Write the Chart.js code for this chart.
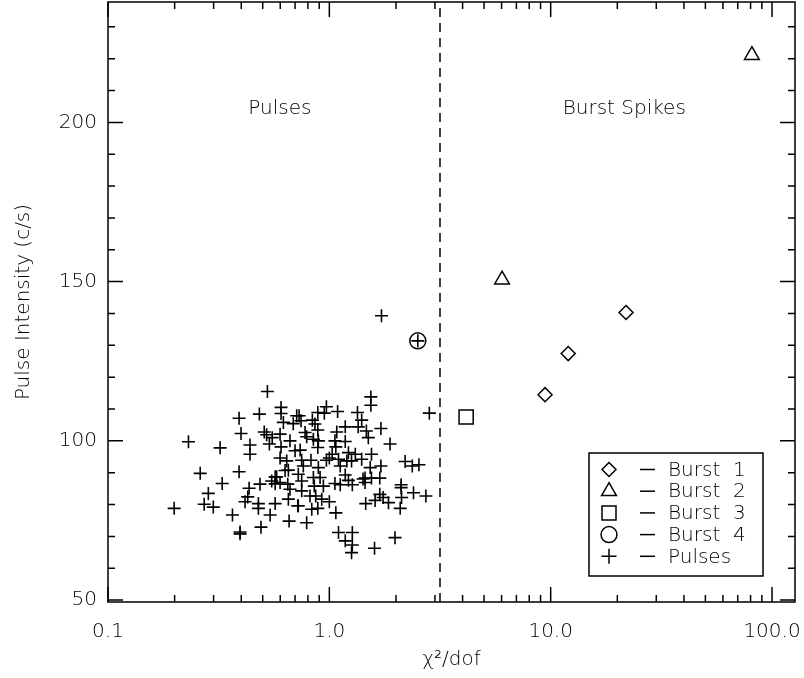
<!DOCTYPE html>
<html>
<head>
<meta charset="utf-8">
<script src="https://cdn.jsdelivr.net/npm/chart.js@4.4.1/dist/chart.umd.min.js"></script>
<style>
  html, body { margin: 0; padding: 0; background: #fff; }
  #wrap { width: 804px; height: 678px; }
</style>
</head>
<body>
<div id="wrap"><canvas id="chart" width="804" height="678"></canvas></div>
<script>
// pulses (chi2/dof, intensity)
const pulseX = [
  0.525, 0.605, 0.605, 0.483, 0.391, 0.712, 0.620, 0.687, 0.399, 0.508, 0.521, 0.599, 0.552, 0.231,
  0.321, 0.438, 0.438, 0.536, 0.605, 0.664, 0.700, 0.599, 0.642, 0.261, 0.391, 0.653, 0.569,
  1.54, 1.54, 2.83, 0.97, 0.887, 0.949, 1.09, 1.34, 0.730, 0.745, 0.838, 1.40, 0.861, 1.18, 1.35,
  1.71, 1.47, 0.887, 1.08, 0.777, 0.79, 1.50, 0.847, 0.892, 1.06, 1.18, 1.88, 0.887, 1.07, 0.738,
  1.55, 1.22, 1.31, 1.03, 1.00, 0.97, 1.10, 1.40, 1.20, 1.26, 0.75, 0.826, 0.763, 0.892, 1.12,
  1.53, 1.71, 2.20, 2.37, 2.54, 0.724, 0.847, 1.18, 1.45, 1.69,
  0.328, 0.284, 0.272, 0.299, 0.199, 0.434, 0.486, 0.549, 0.578, 0.599, 0.649, 0.664, 0.428, 0.416,
  0.478, 0.478, 0.569, 0.653, 0.72, 0.365, 0.540, 0.658, 0.491, 0.395, 0.395, 0.631, 0.569,
  0.75, 0.908, 0.855, 0.94, 0.75, 0.818, 0.868, 0.924, 1.00, 0.724, 0.833, 0.887, 1.06, 1.12,
  1.22, 1.27, 1.42, 1.45, 1.55, 2.11, 2.11, 2.40, 2.73, 1.69, 1.61, 1.75, 1.85, 1.46, 2.12, 2.09,
  1.07, 0.79, 1.10, 1.27, 1.18, 1.27, 1.26, 1.60, 1.98,
  1.72, 2.51
];
const pulseY = [
  115.5, 110.5, 108.6, 108.4, 107.1, 107.9, 105.8, 105.4, 102.3, 102.8, 101.9, 102.1, 101.0, 99.7,
  97.8, 98.7, 95.8, 99.0, 98.1, 100.0, 96.9, 94.6, 93.7, 89.8, 90.3, 90.8, 88.7,
  113.8, 111.2, 108.7, 110.7, 108.9, 108.7, 109.2, 108.9, 107.9, 106.3, 106.5, 106.5, 105.3, 104.4, 104.4,
  103.9, 103.1, 103.4, 102.8, 102.6, 101.3, 101.0, 100.5, 100.0, 100.0, 99.8, 99.0, 97.9, 98.1, 97.1,
  95.8, 96.3, 95.8, 95.8, 94.6, 93.9, 94.2, 94.2, 93.7, 93.7, 93.9, 93.9, 92.1, 91.6, 92.1,
  91.6, 92.1, 93.5, 92.1, 92.5, 89.5, 88.5, 89.3, 88.3, 88.3,
  86.6, 83.5, 80.1, 79.2, 78.8, 85.1, 86.4, 87.4, 88.7, 86.9, 86.4, 84.8, 82.4, 80.9,
  80.3, 78.8, 80.3, 81.7, 79.6, 76.7, 76.7, 74.8, 72.9, 71.4, 70.8, 90.7, 86.5,
  87.4, 88.5, 85.8, 85.8, 84.3, 82.7, 82.7, 81.7, 80.9, 79.6, 78.5, 78.8, 86.6, 86.2,
  87.6, 86.2, 88.0, 86.9, 88.3, 86.2, 85.3, 83.7, 82.7, 83.2, 81.3, 82.2, 80.6, 80.3, 82.2, 78.8,
  77.4, 74.3, 71.2, 71.2, 68.6, 67.3, 64.9, 66.3, 69.6,
  139.3, 131.4
];

const burst1X = [9.43, 12.0, 21.9];
const burst1Y = [114.5, 127.4, 140.3];
const burst2X = [6.03, 81.1];
const burst2Y = [150.6, 221.1];
const burst3X = [4.15];
const burst3Y = [107.5];
const burst4X = [2.51];
const burst4Y = [131.4];

const xTickVals = [0.1, 1, 10, 100];
const xTickLabels = ['0.1', '1.0', '10.0', '100.0'];
const yTickVals = [50, 100, 150, 200];
const yTickLabels = ['50', '100', '150', '200'];

const legendNames = ['Burst 1', 'Burst 2', 'Burst 3', 'Burst 4', 'Pulses'];
const dividerX = 3.162;

const FONT = '"DejaVu Sans", sans-serif';
const INK = '#000';
const TEXT = '#000';

function pts(xs, ys) {
  return xs.map((v, i) => ({ x: v, y: ys[i] }));
}

function drawSymbol(ctx, style, cx, cy) {
  ctx.beginPath();
  if (style === 'rectRot') {
    ctx.moveTo(cx, cy - 7); ctx.lineTo(cx + 7, cy); ctx.lineTo(cx, cy + 7); ctx.lineTo(cx - 7, cy); ctx.closePath();
  } else if (style === 'triangle') {
    ctx.moveTo(cx, cy - 8.5); ctx.lineTo(cx + 7.4, cy + 4.3); ctx.lineTo(cx - 7.4, cy + 4.3); ctx.closePath();
  } else if (style === 'rect') {
    ctx.rect(cx - 7, cy - 7, 14, 14);
  } else if (style === 'circle') {
    ctx.arc(cx, cy, 8, 0, Math.PI * 2);
  } else {
    ctx.moveTo(cx - 7.5, cy); ctx.lineTo(cx + 7.5, cy); ctx.moveTo(cx, cy - 7.5); ctx.lineTo(cx, cy + 7.5);
  }
  ctx.stroke();
}

const boxPlugin = {
  id: 'idlBox',
  beforeDatasetsDraw(chart) {
    const { ctx, chartArea: a, scales: { x, y } } = chart;
    ctx.save();
    ctx.strokeStyle = INK;
    ctx.lineWidth = 1.5;
    ctx.strokeRect(a.left, a.top, a.right - a.left, a.bottom - a.top);

    ctx.beginPath();
    // x ticks, bottom and top
    xTickVals.forEach(d => {
      for (let m = 1; m <= 9; m++) {
        const v = d * m;
        if (v < x.min || v > x.max) continue;
        const px = x.getPixelForValue(v);
        const len = m === 1 ? 15 : 7;
        ctx.moveTo(px, a.bottom); ctx.lineTo(px, a.bottom - len);
        ctx.moveTo(px, a.top); ctx.lineTo(px, a.top + len);
      }
    });
    // y ticks, left and right
    for (let v = 50; v <= y.max; v += 10) {
      const py = y.getPixelForValue(v);
      const len = v % 50 === 0 ? 15 : 7;
      ctx.moveTo(a.left, py); ctx.lineTo(a.left + len, py);
      ctx.moveTo(a.right, py); ctx.lineTo(a.right - len, py);
    }
    ctx.stroke();

    // divider between pulses and burst spikes
    const dx = x.getPixelForValue(dividerX);
    ctx.setLineDash([9, 6]);
    ctx.beginPath();
    ctx.moveTo(dx, a.bottom); ctx.lineTo(dx, a.top);
    ctx.stroke();
    ctx.setLineDash([]);

    ctx.fillStyle = TEXT;
    ctx.font = '300 20px ' + FONT;
    ctx.textAlign = 'center';
    ctx.textBaseline = 'middle';
    ctx.fillText('Pulses', x.getPixelForValue(0.598), y.getPixelForValue(204.2));
    ctx.fillText('Burst Spikes', x.getPixelForValue(21.5), y.getPixelForValue(204.2));
    ctx.restore();
  },
  afterDraw(chart) {
    const { ctx } = chart;
    ctx.save();
    ctx.strokeStyle = INK;
    ctx.lineWidth = 1.5;
    ctx.strokeRect(589, 453, 174, 123);
    const styles = ['rectRot', 'triangle', 'rect', 'circle', 'cross'];
    ctx.font = '300 20px ' + FONT;
    ctx.fillStyle = TEXT;
    ctx.textAlign = 'left';
    ctx.textBaseline = 'middle';
    legendNames.forEach((name, i) => {
      const cy = 469.5 + i * 21.7;
      drawSymbol(ctx, styles[i], 609, cy);
      ctx.beginPath();
      ctx.moveTo(640, cy); ctx.lineTo(655, cy);
      ctx.stroke();
      ctx.fillText(name.replace(' ', '  '), 668, cy + 1);
    });
    ctx.restore();
  }
};

const markerBase = { showLine: false, borderColor: INK, backgroundColor: 'rgba(0,0,0,0)', pointBorderWidth: 1.5 };

new Chart(document.getElementById('chart'), {
  type: 'scatter',
  data: {
    datasets: [
      Object.assign({ label: 'Pulses', data: pts(pulseX, pulseY), pointStyle: 'cross', pointRadius: 6.5 }, markerBase, { pointBorderWidth: 1.6 }),
      Object.assign({ label: 'Burst 1', data: pts(burst1X, burst1Y), pointStyle: 'rectRot', pointRadius: 7 }, markerBase),
      Object.assign({ label: 'Burst 2', data: pts(burst2X, burst2Y), pointStyle: 'triangle', pointRadius: 8.5 }, markerBase),
      Object.assign({ label: 'Burst 3', data: pts(burst3X, burst3Y), pointStyle: 'rect', pointRadius: 10 }, markerBase),
      Object.assign({ label: 'Burst 4', data: pts(burst4X, burst4Y), pointStyle: 'circle', pointRadius: 8 }, markerBase)
    ]
  },
  options: {
    responsive: false,
    animation: false,
    layout: { autoPadding: false, padding: { top: 2, right: 9, left: 0, bottom: 0 } },
    plugins: { legend: { display: false }, tooltip: { enabled: false } },
    scales: {
      x: {
        type: 'logarithmic',
        min: 0.1,
        max: 127,
        grid: { display: false, drawTicks: false },
        border: { display: false },
        afterBuildTicks: s => { s.ticks = xTickVals.map(v => ({ value: v })); },
        afterFit: s => { s.height = 76; s.paddingLeft = 0; s.paddingRight = 0; },
        ticks: {
          padding: 18,
          maxRotation: 0,
          autoSkip: false,
          color: TEXT,
          font: { family: FONT, size: 20, weight: 300 },
          callback: (v, i) => xTickLabels[i]
        },
        title: {
          display: true,
          text: 'χ²/dof',
          color: TEXT,
          font: { family: FONT, size: 20, weight: 300 },
          padding: { top: 0, bottom: 6 }
        }
      },
      y: {
        min: 49.4,
        max: 237.8,
        grid: { display: false, drawTicks: false },
        border: { display: false },
        afterBuildTicks: s => { s.ticks = yTickVals.map(v => ({ value: v })); },
        afterFit: s => { s.width = 108; s.paddingTop = 0; s.paddingBottom = 0; },
        ticks: {
          padding: 11,
          autoSkip: false,
          color: TEXT,
          font: { family: FONT, size: 20, weight: 300 },
          callback: (v, i) => yTickLabels[i]
        },
        title: {
          display: true,
          text: 'Pulse Intensity (c/s)',
          color: TEXT,
          font: { family: FONT, size: 20, weight: 300 },
          padding: { top: 12, bottom: 0 }
        }
      }
    }
  },
  plugins: [boxPlugin]
});
</script>
</body>
</html>
